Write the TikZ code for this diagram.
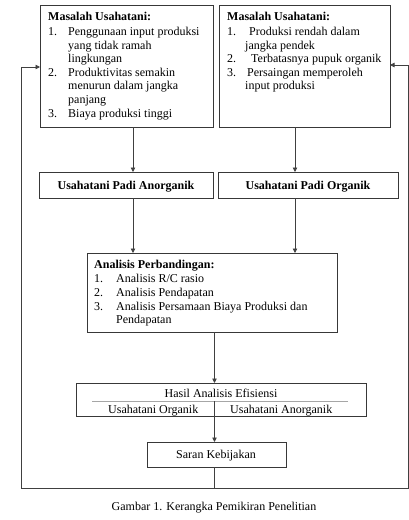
\documentclass[tikz,border=0pt]{standalone}
\usepackage{fontspec}
\setmainfont{Liberation Serif}
\usetikzlibrary{arrows.meta}
\begin{document}
\begin{tikzpicture}[x=1pt,y=-1pt,
  box/.style={draw=black!78, line width=0.9pt, rectangle, inner sep=0pt, outer sep=0pt, anchor=north west},
  txt/.style={anchor=base west, inner sep=0pt, font=\fontsize{12}{13.8}\selectfont},
  ctxt/.style={anchor=base, inner sep=0pt, font=\fontsize{12}{13.8}\selectfont},
  conn/.style={draw=black!75, line width=0.8pt},
  arr/.style={conn, -{Triangle[length=4.5pt,width=4.5pt]}}]
\useasboundingbox (0,0) rectangle (409,520);
% boxes
\node[box, minimum width=173, minimum height=122] (p1) at (40,5) {};
\node[box, minimum width=171, minimum height=122] (p2) at (219,5) {};
\node[box, minimum width=174, minimum height=26] (a1) at (39,172) {};
\node[box, minimum width=180, minimum height=26] (a2) at (218,172) {};
\node[box, minimum width=250, minimum height=79] (an) at (87,253) {};
\node[box, minimum width=290, minimum height=33] (h) at (76,383) {};
\node[box, minimum width=139, minimum height=25] (s) at (147,442) {};
% box 1 text
\node[txt] (p1t) at (48,20) {\textbf{Masalah Usahatani:}};
\node[txt] (p1n1) at (48,35.5) {1.};
\node[txt] (p1l1) at (68,35.5) {Penggunaan input produksi};
\node[txt] (p1l2) at (68,49.1) {yang tidak ramah};
\node[txt] (p1l3) at (68,62.7) {lingkungan};
\node[txt] (p1n2) at (48,76.3) {2.};
\node[txt] (p1l4) at (68,76.3) {Produktivitas semakin};
\node[txt] (p1l5) at (68,89.9) {menurun dalam jangka};
\node[txt] (p1l6) at (68,103.5) {panjang};
\node[txt] (p1n3) at (48,117.1) {3.};
\node[txt] (p1l7) at (68,117.1) {Biaya produksi tinggi};
% box 2 text
\node[txt] (p2t) at (227,20) {\textbf{Masalah Usahatani:}};
\node[txt] (p2n1) at (227,35.5) {1.};
\node[txt] (p2l1) at (249,35.5) {Produksi rendah dalam};
\node[txt] (p2l2) at (245,49.1) {jangka pendek};
\node[txt] (p2n2) at (227,62.7) {2.};
\node[txt] (p2l3) at (251,62.7) {Terbatasnya pupuk organik};
\node[txt] (p2n3) at (227,76.3) {3.};
\node[txt] (p2l4) at (247,76.3) {Persaingan memperoleh};
\node[txt] (p2l5) at (245,89.9) {input produksi};
% usahatani boxes text
\node[ctxt] (a1t) at (126,189) {\textbf{Usahatani Padi Anorganik}};
\node[ctxt] (a2t) at (308,189) {\textbf{Usahatani Padi Organik}};
% analisis text
\node[txt] (ant) at (94,268) {\textbf{Analisis Perbandingan:}};
\node[txt] (ann1) at (94,282) {1.};
\node[txt] (anl1) at (116,282) {Analisis R/C rasio};
\node[txt] (ann2) at (94,296) {2.};
\node[txt] (anl2) at (116,296) {Analisis Pendapatan};
\node[txt] (ann3) at (94,310) {3.};
\node[txt] (anl3) at (116,310) {Analisis Persamaan Biaya Produksi dan};
\node[txt] (anl4) at (116,323.8) {Pendapatan};
% hasil text
\node[ctxt] (ht) at (221,397) {Hasil Analisis Efisiensi};
\coordinate (hdl) at (92,401);
\coordinate (hdr) at (348,401);
\draw[draw=black!35, line width=1pt] (hdl) -- (hdr);
\node[txt] (ho) at (108,413) {Usahatani Organik};
\node[txt] (ha) at (230,413) {Usahatani Anorganik};
% saran text
\node[ctxt] (st) at (216,458) {Saran Kebijakan};
% caption
\node[ctxt] (cap) at (214,510) {Gambar 1. Kerangka Pemikiran Penelitian};
% connector x positions
\coordinate (xL) at (133,0);
\coordinate (xR) at (295,0);
\coordinate (xM) at (214.5,0);
\coordinate (hm) at (214.5,401);
\coordinate (bm) at (214.5,488.5);
\coordinate (bl) at (21,488.5);
\coordinate (br) at (408,488.5);
\coordinate (fl) at (21,67);
\coordinate (fr) at (408,65);
% connectors
\draw[arr] (p1.south -| xL) -- (a1.north -| xL);
\draw[arr] (p2.south -| xR) -- (a2.north -| xR);
\draw[arr] (a1.south -| xL) -- (an.north -| xL);
\draw[arr] (a2.south -| xR) -- (an.north -| xR);
\draw[arr] (an.south -| xM) -- (h.north -| xM);
\draw[arr] (hm) -- (s.north -| xM);
\draw[conn] (s.south -| xM) -- (bm);
\draw[arr] (bm) -- (bl) -- (fl) -- (fl -| p1.west);
\draw[arr] (bm) -- (br) -- (fr) -- (fr -| p2.east);
\end{tikzpicture}
\end{document}
